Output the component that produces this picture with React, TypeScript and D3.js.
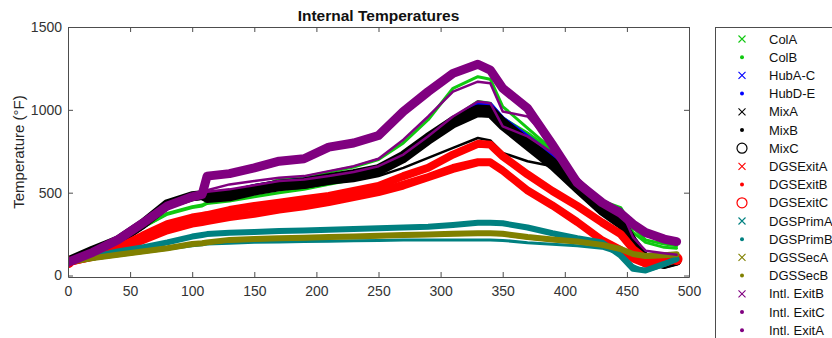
import { useEffect, useRef } from "react";
import * as d3 from "d3";

// time axis shared by every sensor
const times = [0, 20, 40, 60, 80, 100, 108, 112, 130, 150, 170, 190, 210, 230, 250, 270, 290, 310, 330, 340, 350, 370, 390, 410, 430, 445, 455, 465, 480, 490];

// temperatures (°F)
const colA = [85, 140, 205, 290, 375, 415, 425, 440, 470, 520, 580, 595, 625, 655, 700, 800, 940, 1130, 1200, 1185, 1020, 890, 760, 580, 450, 410, 290, 215, 190, 180];
const colB = [85, 140, 205, 290, 370, 410, 420, 435, 450, 475, 500, 520, 550, 580, 620, 700, 820, 950, 1050, 1040, 950, 860, 750, 570, 440, 400, 260, 200, 170, 165];
const hubAC = [85, 150, 215, 315, 435, 480, 488, 492, 505, 540, 565, 580, 600, 625, 655, 730, 840, 940, 1040, 1035, 950, 840, 730, 570, 440, 395, 210, 115, 100, 105];
const hubDE = [85, 150, 212, 312, 432, 478, 486, 490, 502, 537, 562, 575, 597, 622, 650, 725, 835, 935, 1035, 1030, 945, 835, 725, 565, 435, 390, 200, 110, 95, 100];
const mixA = [85, 150, 210, 310, 430, 478, 485, 478, 488, 522, 548, 562, 588, 612, 642, 722, 832, 932, 1002, 997, 922, 802, 682, 542, 402, 322, 202, 100, 70, 90];
const mixB = [85, 146, 206, 306, 426, 474, 481, 462, 472, 507, 532, 547, 572, 597, 625, 702, 812, 912, 980, 975, 900, 780, 660, 520, 385, 305, 185, 92, 65, 85];
const mixC = [85, 140, 200, 300, 420, 470, 480, 470, 480, 505, 520, 530, 555, 570, 600, 650, 710, 770, 830, 815, 740, 690, 660, 520, 380, 290, 170, 90, 70, 90];
const dgsExitA = [80, 115, 165, 240, 310, 350, 360, 365, 395, 420, 440, 460, 480, 510, 540, 600, 650, 730, 795, 790, 720, 610, 510, 420, 320, 250, 160, 100, 85, 105];
const dgsExitB = [80, 110, 150, 210, 270, 310, 320, 325, 350, 370, 395, 415, 440, 470, 500, 540, 590, 640, 680, 680, 630, 510, 420, 320, 210, 150, 100, 70, 75, 95];
const dgsExitC = [80, 110, 155, 215, 280, 320, 330, 335, 360, 380, 405, 425, 450, 480, 510, 555, 600, 655, 690, 690, 640, 520, 430, 330, 220, 160, 110, 65, 75, 100];
const dgsPrimA = [85, 110, 145, 170, 200, 235, 245, 250, 258, 262, 268, 272, 276, 280, 285, 290, 295, 305, 318, 318, 315, 290, 255, 225, 200, 120, 40, 30, 70, 100];
const dgsPrimB = [80, 100, 120, 140, 160, 180, 185, 190, 195, 200, 202, 205, 207, 210, 212, 215, 215, 215, 215, 215, 212, 198, 188, 180, 165, 130, 60, 25, 60, 90];
const dgsSecA = [80, 105, 125, 145, 165, 190, 195, 200, 215, 220, 225, 228, 232, 236, 240, 245, 248, 252, 255, 255, 252, 232, 218, 205, 185, 160, 130, 118, 122, 128];
const dgsSecB = [80, 103, 122, 142, 162, 188, 193, 198, 212, 217, 222, 225, 229, 233, 237, 242, 245, 249, 252, 252, 249, 229, 215, 202, 182, 157, 127, 115, 120, 125];
const intlExitB = [80, 140, 215, 315, 420, 475, 490, 600, 615, 650, 690, 705, 775, 800, 845, 990, 1110, 1220, 1275, 1240, 1130, 1010, 790, 560, 440, 375, 310, 260, 220, 205];
const intlExitC = [85, 145, 212, 312, 425, 478, 488, 515, 550, 570, 590, 600, 630, 660, 705, 820, 960, 1110, 1170, 1160, 990, 960, 790, 580, 450, 380, 290, 240, 215, 205];
const intlExitA = [85, 145, 210, 310, 422, 476, 486, 505, 520, 545, 570, 580, 600, 625, 660, 730, 840, 960, 1050, 1040, 900, 840, 740, 590, 450, 400, 230, 150, 135, 125];

const xTicks = [0, 50, 100, 150, 200, 250, 300, 350, 400, 450, 500];
const yTicks = [0, 500, 1000, 1500];

const series = [
  { name: "ColA", values: colA, color: "#10c810", marker: "x", width: 3 },
  { name: "ColB", values: colB, color: "#10c810", marker: ".", width: 3 },
  { name: "HubA-C", values: hubAC, color: "#0000ff", marker: "x", width: 4 },
  { name: "HubD-E", values: hubDE, color: "#0000ff", marker: ".", width: 3 },
  { name: "MixA", values: mixA, color: "#000000", marker: "x", width: 10 },
  { name: "MixB", values: mixB, color: "#000000", marker: ".", width: 8 },
  { name: "MixC", values: mixC, color: "#000000", marker: "o", width: 2.5 },
  { name: "DGSExitA", values: dgsExitA, color: "#ff0000", marker: "x", width: 8 },
  { name: "DGSExitB", values: dgsExitB, color: "#ff0000", marker: ".", width: 7 },
  { name: "DGSExitC", values: dgsExitC, color: "#ff0000", marker: "o", width: 6 },
  { name: "DGSPrimA", values: dgsPrimA, color: "#008080", marker: "x", width: 6 },
  { name: "DGSPrimB", values: dgsPrimB, color: "#008080", marker: ".", width: 3 },
  { name: "DGSSecA", values: dgsSecA, color: "#808000", marker: "x", width: 6 },
  { name: "DGSSecB", values: dgsSecB, color: "#808000", marker: ".", width: 4 },
  { name: "Intl. ExitB", values: intlExitB, color: "#800080", marker: "x", width: 9 },
  { name: "Intl. ExitC", values: intlExitC, color: "#800080", marker: ".", width: 2.5 },
  { name: "Intl. ExitA", values: intlExitA, color: "#800080", marker: ".", width: 2.5 },
];

const FONT = "'Liberation Sans', Arial, sans-serif";

const App = () => {
  const ref = useRef<SVGSVGElement>(null);

  useEffect(() => {
    const width = 832;
    const height = 338;
    const margin = { left: 68, right: 689, top: 27, bottom: 277 };

    const svg = d3.select(ref.current).attr("width", width).attr("height", height);
    svg.selectAll("*").remove();

    const x = d3.scaleLinear().domain([0, 500]).range([margin.left, margin.right]);
    const y = d3.scaleLinear().domain([-9, 1500]).range([margin.bottom, margin.top]);

    // 플롯 영역 clip
    svg
      .append("defs")
      .append("clipPath")
      .attr("id", "plot-clip")
      .append("rect")
      .attr("x", margin.left)
      .attr("y", margin.top)
      .attr("width", margin.right - margin.left)
      .attr("height", margin.bottom - margin.top);

    // data lines
    const line = d3
      .line<number>()
      .x((_, i) => x(times[i]))
      .y((d) => y(d));

    const plot = svg.append("g").attr("clip-path", "url(#plot-clip)");
    series.forEach((s) => {
      plot
        .append("path")
        .attr("d", line(s.values))
        .attr("fill", "none")
        .attr("stroke", s.color)
        .attr("stroke-width", s.width)
        .attr("stroke-linejoin", "round")
        .attr("stroke-linecap", "round");
      if (s.marker === "o" && s.color === "#ff0000") {
        // dense open circles look like blobs at both ends
        const ends = [0, s.values.length - 1];
        plot
          .selectAll(null)
          .data(ends)
          .join("circle")
          .attr("cx", (i) => x(times[i]))
          .attr("cy", (i) => y(s.values[i]))
          .attr("r", 6)
          .attr("fill", s.color);
      }
    });

    // axes (MATLAB box style, ticks inward)
    const axisColor = "#4d4d4d";
    const styleAxis = (g) => {
      g.selectAll("path").attr("stroke", axisColor);
      g.selectAll("line").attr("stroke", axisColor);
      g.selectAll("text").attr("fill", "#333").attr("font-size", 14).attr("font-family", FONT);
    };

    svg
      .append("g")
      .attr("transform", `translate(0,${margin.bottom})`)
      .call(d3.axisBottom(x).tickValues(xTicks).tickSize(-5).tickSizeOuter(0).tickPadding(9).tickFormat(d3.format("d")))
      .call(styleAxis);
    svg
      .append("g")
      .attr("transform", `translate(0,${margin.top})`)
      .call(d3.axisTop(x).tickValues(xTicks).tickSize(-5).tickSizeOuter(0).tickFormat(() => ""))
      .call(styleAxis);
    svg
      .append("g")
      .attr("transform", `translate(${margin.left},0)`)
      .call(d3.axisLeft(y).tickValues(yTicks).tickSize(-5).tickSizeOuter(0).tickPadding(6).tickFormat(d3.format("d")))
      .call(styleAxis);
    svg
      .append("g")
      .attr("transform", `translate(${margin.right},0)`)
      .call(d3.axisRight(y).tickValues(yTicks).tickSize(-5).tickSizeOuter(0).tickFormat(() => ""))
      .call(styleAxis);

    // title
    svg
      .append("text")
      .attr("x", (margin.left + margin.right) / 2)
      .attr("y", 21)
      .attr("text-anchor", "middle")
      .attr("font-family", FONT)
      .attr("font-size", 15.5)
      .attr("font-weight", "bold")
      .attr("fill", "#111")
      .text("Internal Temperatures");

    // y label
    svg
      .append("text")
      .attr("transform", `translate(24,${(margin.top + margin.bottom) / 2}) rotate(-90)`)
      .attr("text-anchor", "middle")
      .attr("font-family", FONT)
      .attr("font-size", 15)
      .attr("fill", "#262626")
      .text("Temperature (°F)");

    // legend
    const legend = svg.append("g");
    legend
      .append("rect")
      .attr("x", 715.5)
      .attr("y", 27.5)
      .attr("width", 140)
      .attr("height", 330)
      .attr("fill", "white")
      .attr("stroke", "#4d4d4d");

    const rows = legend
      .selectAll("g.row")
      .data(series)
      .join("g")
      .attr("class", "row")
      .attr("transform", (_, i) => `translate(742,${39 + i * 18.2})`);

    rows.each(function (s) {
      const g = d3.select(this);
      if (s.marker === "x") {
        g.append("path").attr("d", "M-3.5,-3.5L3.5,3.5M-3.5,3.5L3.5,-3.5").attr("stroke", s.color).attr("stroke-width", 1.1);
      } else if (s.marker === ".") {
        g.append("circle").attr("r", 2).attr("fill", s.color);
      } else {
        g.append("circle").attr("r", 5).attr("fill", "none").attr("stroke", s.color).attr("stroke-width", 1.2);
      }
    });

    rows
      .append("text")
      .attr("x", 27)
      .attr("dy", "0.35em")
      .attr("font-family", FONT)
      .attr("font-size", 13)
      .attr("fill", "#111")
      .text((s) => s.name);
  }, []);

  return <svg ref={ref} style={{ position: "absolute", left: 0, top: 0, background: "white" }} />;
};

export default App;
